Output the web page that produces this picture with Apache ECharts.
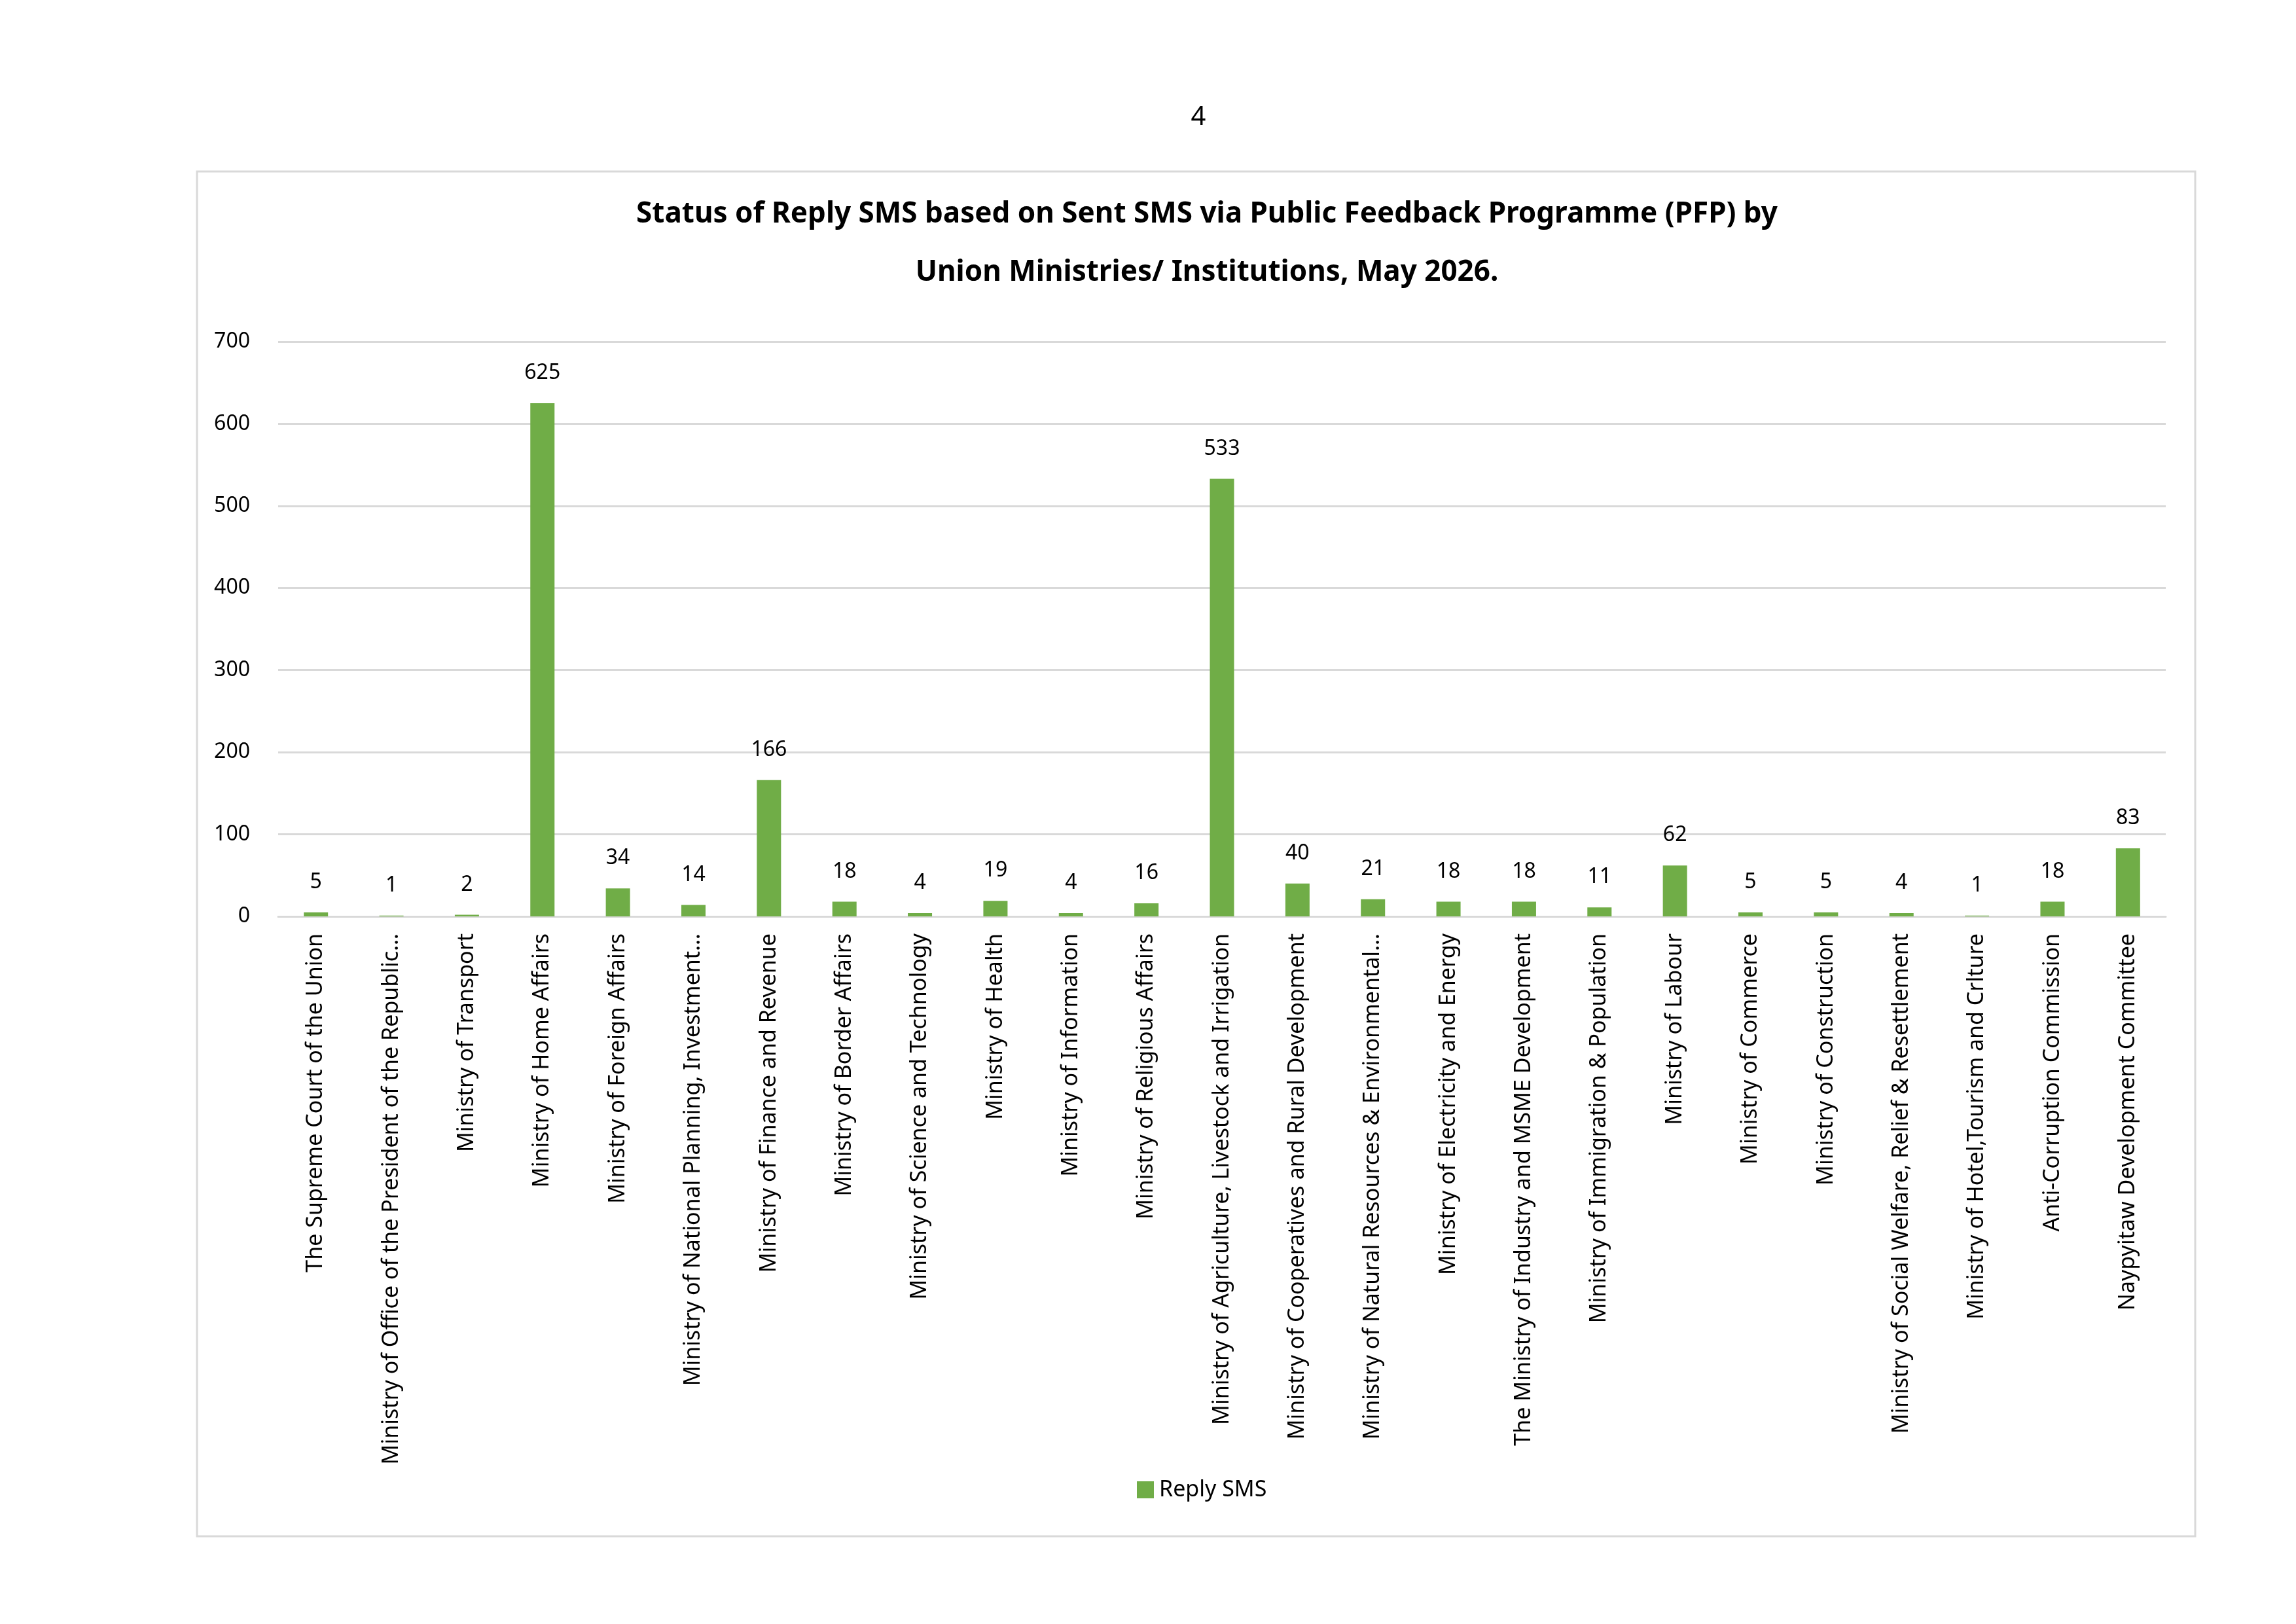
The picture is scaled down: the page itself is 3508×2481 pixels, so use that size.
<!DOCTYPE html>
<html>
<head>
    <meta charset="utf-8">
    <title>Reply SMS</title>
    <script src="https://cdn.jsdelivr.net/npm/echarts@6/dist/echarts.min.js"></script>
    <style>
        html, body { margin: 0; padding: 0; background: #fff; }
        #main { width: 3508px; height: 2481px; }
    </style>
</head>
<body>
    <div id="main"></div>
    <script type="text/javascript">
        // categories and values
        var ministries = [
            'The Supreme Court of the Union',
            'Ministry of Office of the President of the Republic…',
            'Ministry of Transport',
            'Ministry of Home Affairs',
            'Ministry of Foreign Affairs',
            'Ministry of National Planning, Investment…',
            'Ministry of Finance and Revenue',
            'Ministry of Border Affairs',
            'Ministry of Science and Technology',
            'Ministry of Health',
            'Ministry of Information',
            'Ministry of Religious Affairs',
            'Ministry of Agriculture, Livestock and Irrigation',
            'Ministry of Cooperatives and Rural Development',
            'Ministry of Natural Resources & Environmental…',
            'Ministry of Electricity and Energy',
            'The Ministry of Industry and MSME Development',
            'Ministry of Immigration & Population',
            'Ministry of Labour',
            'Ministry of Commerce',
            'Ministry of Construction',
            'Ministry of Social Welfare, Relief & Resettlement',
            'Ministry of Hotel,Tourism and Crlture',
            'Anti-Corruption Commission',
            'Naypyitaw Development Committee'
        ];
        var replySms = [5, 1, 2, 625, 34, 14, 166, 18, 4, 19, 4, 16, 533, 40, 21, 18, 18, 11, 62, 5, 5, 4, 1, 18, 83];
        var yTicks = { min: 0, max: 700, step: 100 };

        var font = 'Noto Sans';
        var myChart = echarts.init(document.getElementById('main'));

        var option = {
            backgroundColor: '#fff',
            animation: false,
            textStyle: { fontFamily: font },
            title: {
                text: 'Status of Reply SMS based on Sent SMS via Public Feedback Programme (PFP) by\nUnion Ministries/ Institutions, May 2026.',
                left: 1839,
                top: 278,
                textAlign: 'center',
                textStyle: {
                    fontFamily: font,
                    fontSize: 44,
                    fontWeight: 'bold',
                    color: '#000',
                    lineHeight: 89
                }
            },
            graphic: [
                {
                    type: 'rect',
                    shape: { x: 301, y: 262, width: 3053, height: 2085 },
                    style: { fill: 'none', stroke: '#d9d9d9', lineWidth: 3 },
                    silent: true
                },
                {
                    type: 'text',
                    x: 1831,
                    y: 180,
                    style: {
                        text: '4',
                        font: '40px "Noto Sans"',
                        fill: '#000',
                        align: 'center',
                        verticalAlign: 'middle'
                    }
                }
            ],
            legend: {
                data: ['Reply SMS'],
                left: 1732,
                top: 2254,
                itemWidth: 26,
                itemHeight: 26,
                itemGap: 12,
                icon: 'rect',
                textStyle: { fontFamily: font, fontSize: 34, color: '#000', padding: [0, 0, 0, 3] }
            },
            grid: {
                left: 425,
                right: 199,
                top: 522,
                bottom: 1081
            },
            xAxis: {
                type: 'category',
                data: ministries,
                axisTick: { show: false },
                axisLine: { lineStyle: { color: '#d9d9d9', width: 3 } },
                axisLabel: {
                    interval: 0,
                    rotate: 90,
                    margin: 26,
                    fontFamily: font,
                    fontSize: 34,
                    color: '#000'
                }
            },
            yAxis: {
                type: 'value',
                min: yTicks.min,
                max: yTicks.max,
                interval: yTicks.step,
                axisLine: { show: false },
                axisTick: { show: false },
                splitLine: { lineStyle: { color: '#d9d9d9', width: 3 } },
                axisLabel: {
                    margin: 43,
                    fontFamily: font,
                    fontSize: 32,
                    color: '#000'
                }
            },
            series: [
                {
                    name: 'Reply SMS',
                    type: 'bar',
                    data: replySms,
                    barWidth: 37,
                    itemStyle: { color: '#70ad47' },
                    label: {
                        show: true,
                        position: 'top',
                        distance: 30,
                        fontFamily: font,
                        fontSize: 32,
                        color: '#000'
                    }
                }
            ]
        };
        myChart.setOption(option);
    </script>
</body>
</html>
